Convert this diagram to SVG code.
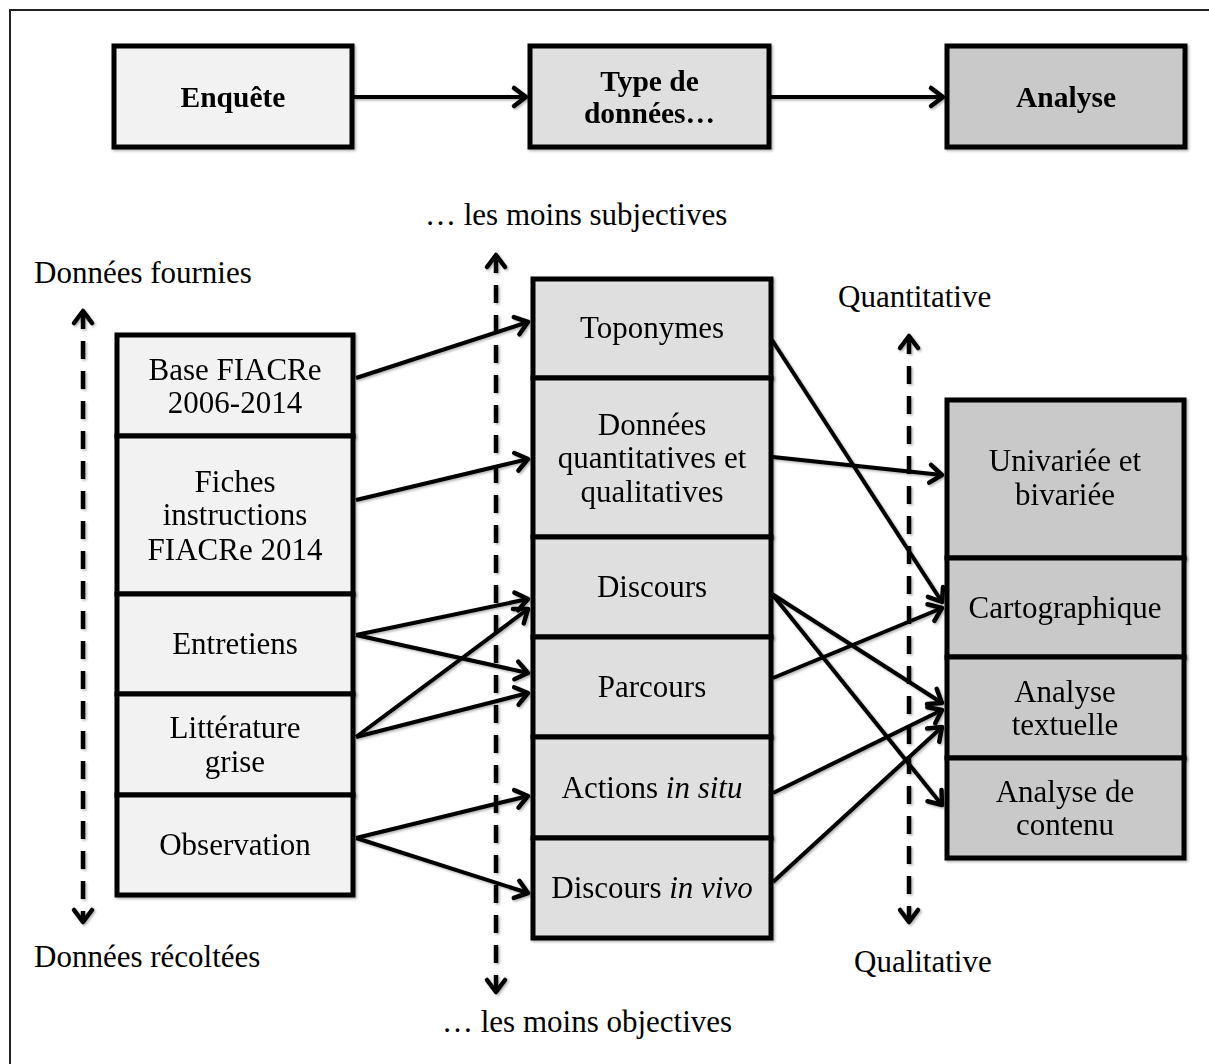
<svg xmlns="http://www.w3.org/2000/svg" width="1209" height="1064" viewBox="0 0 1209 1064">
<style>
text{font-family:"Liberation Serif","Times New Roman",serif;font-size:31px;fill:#000;text-anchor:middle}
.b{font-weight:bold;font-size:29.5px}
.l{text-anchor:start}
.c1{fill:#f2f2f2;stroke:#000;stroke-width:5}
.c2{fill:#dfdfdf;stroke:#000;stroke-width:5}
.c3{fill:#c9c9c9;stroke:#000;stroke-width:5}
.cn{stroke:#000;stroke-width:4;fill:none;marker-end:url(#ah)}
.ds{stroke:#000;stroke-width:4.5;fill:none;stroke-dasharray:18 12;marker-end:url(#ah);marker-start:url(#ahs)}
</style>
<defs>
<filter id="sh" x="-10%" y="-10%" width="130%" height="130%">
<feDropShadow dx="1.5" dy="1.5" stdDeviation="1.2" flood-color="#000" flood-opacity="0.3"/>
</filter>
<marker id="ah" markerUnits="userSpaceOnUse" viewBox="-18 -14 24 28" markerWidth="24" markerHeight="28" refX="0" refY="0" orient="auto" overflow="visible">
<path d="M-12,-9 L0,0 L-12,9" fill="none" stroke="#000" stroke-width="4.5" stroke-linecap="round" stroke-linejoin="round"/>
</marker>
<marker id="ahs" markerUnits="userSpaceOnUse" viewBox="-18 -14 24 28" markerWidth="24" markerHeight="28" refX="0" refY="0" orient="auto-start-reverse" overflow="visible">
<path d="M-12,-9 L0,0 L-12,9" fill="none" stroke="#000" stroke-width="4.5" stroke-linecap="round" stroke-linejoin="round"/>
</marker>
</defs>
<rect width="1209" height="1064" fill="#fff"/>
<path d="M10,1064 V10 H1209" fill="none" stroke="#222" stroke-width="2"/>

<g id="enquete" filter="url(#sh)"><rect class="c1" x="114" y="46" width="238" height="101"/><text class="b" x="233" y="107">Enquête</text></g>
<g id="type" filter="url(#sh)"><rect class="c2" x="530" y="46" width="239" height="101"/><text class="b" x="649.5" y="91">Type de</text><text class="b" x="649.5" y="123">données…</text></g>
<g id="analyse" filter="url(#sh)"><rect class="c3" x="947" y="46" width="238" height="101"/><text class="b" x="1066" y="107">Analyse</text></g>

<g id="labels">
<text class="l" x="425" y="225">… les moins subjectives</text>
<text class="l" x="34" y="283">Données fournies</text>
<text class="l" x="34" y="967">Données récoltées</text>
<text class="l" x="442" y="1032">… les moins objectives</text>
<text class="l" x="838" y="307">Quantitative</text>
<text class="l" x="854" y="972">Qualitative</text>
</g>

<g id="base" filter="url(#sh)"><rect class="c1" x="117" y="335" width="236" height="101"/><text x="235" y="380">Base FIACRe</text><text x="235" y="413">2006-2014</text></g>
<g id="fiches" filter="url(#sh)"><rect class="c1" x="117" y="436" width="236" height="158"/><text x="235" y="492">Fiches</text><text x="235" y="525">instructions</text><text x="235" y="560">FIACRe 2014</text></g>
<g id="entretiens" filter="url(#sh)"><rect class="c1" x="117" y="594" width="236" height="100"/><text x="235" y="654">Entretiens</text></g>
<g id="litterature" filter="url(#sh)"><rect class="c1" x="117" y="694" width="236" height="101"/><text x="235" y="738">Littérature</text><text x="235" y="772">grise</text></g>
<g id="observation" filter="url(#sh)"><rect class="c1" x="117" y="795" width="236" height="100"/><text x="235" y="855">Observation</text></g>

<g id="toponymes" filter="url(#sh)"><rect class="c2" x="533" y="279" width="238" height="99"/><text x="652" y="338">Toponymes</text></g>
<g id="donnees" filter="url(#sh)"><rect class="c2" x="533" y="378" width="238" height="159"/><text x="652" y="435">Données</text><text x="652" y="468">quantitatives et</text><text x="652" y="502">qualitatives</text></g>
<g id="discours" filter="url(#sh)"><rect class="c2" x="533" y="537" width="238" height="100"/><text x="652" y="597">Discours</text></g>
<g id="parcours" filter="url(#sh)"><rect class="c2" x="533" y="637" width="238" height="100"/><text x="652" y="697">Parcours</text></g>
<g id="actions" filter="url(#sh)"><rect class="c2" x="533" y="737" width="238" height="101"/><text x="652" y="798">Actions <tspan font-style="italic">in situ</tspan></text></g>
<g id="discoursvivo" filter="url(#sh)"><rect class="c2" x="533" y="838" width="238" height="100"/><text x="652" y="898">Discours <tspan font-style="italic">in vivo</tspan></text></g>

<g id="univariee" filter="url(#sh)"><rect class="c3" x="947" y="400" width="237" height="158"/><text x="1065" y="471">Univariée et</text><text x="1065" y="505">bivariée</text></g>
<g id="cartographique" filter="url(#sh)"><rect class="c3" x="947" y="558" width="237" height="99"/><text x="1065" y="618">Cartographique</text></g>
<g id="textuelle" filter="url(#sh)"><rect class="c3" x="947" y="657" width="237" height="101"/><text x="1065" y="702">Analyse</text><text x="1065" y="735">textuelle</text></g>
<g id="contenu" filter="url(#sh)"><rect class="c3" x="947" y="758" width="237" height="100"/><text x="1065" y="802">Analyse de</text><text x="1065" y="835">contenu</text></g>

<g id="connectors" filter="url(#sh)">
<line class="cn" x1="354" y1="97" x2="526" y2="97"/>
<line class="cn" x1="771" y1="97" x2="943" y2="97"/>
<line class="ds" x1="83" y1="311" x2="83" y2="922"/>
<line class="ds" x1="496" y1="255" x2="496" y2="992"/>
<line class="ds" x1="909" y1="336" x2="909" y2="922"/>
<line class="cn" x1="356" y1="378" x2="528" y2="322"/>
<line class="cn" x1="356" y1="500" x2="528" y2="459"/>
<line class="cn" x1="356" y1="635" x2="528" y2="599"/>
<line class="cn" x1="356" y1="635" x2="528" y2="673"/>
<line class="cn" x1="356" y1="737" x2="528" y2="609"/>
<line class="cn" x1="356" y1="737" x2="528" y2="693"/>
<line class="cn" x1="356" y1="838" x2="528" y2="796"/>
<line class="cn" x1="356" y1="838" x2="528" y2="893"/>
<line class="cn" x1="772" y1="340" x2="942" y2="602"/>
<line class="cn" x1="773" y1="457" x2="942" y2="475"/>
<line class="cn" x1="772" y1="594" x2="942" y2="703"/>
<line class="cn" x1="772" y1="594" x2="942" y2="805"/>
<line class="cn" x1="773" y1="678" x2="942" y2="608"/>
<line class="cn" x1="773" y1="793" x2="942" y2="710"/>
<line class="cn" x1="773" y1="882" x2="942" y2="727"/>
</g>
</svg>
